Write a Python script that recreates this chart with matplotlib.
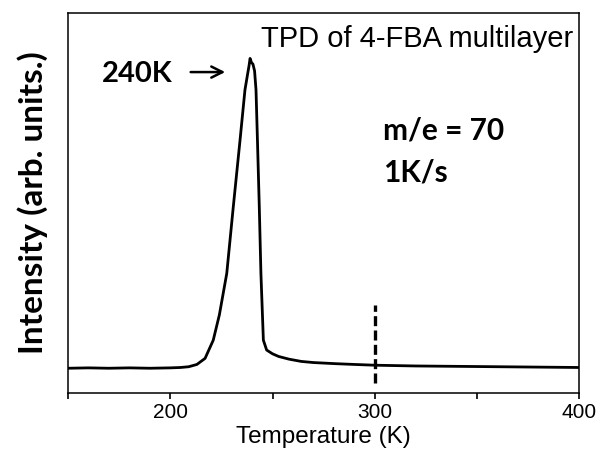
import numpy as np
import matplotlib.pyplot as plt

# TPD trace (T in K, intensity in arb. units)
temp = [150, 160, 170, 180, 190, 200, 205, 209, 213, 217, 221, 224, 227.6, 230.8,
        234.1, 236.5, 237.8, 238.5, 239, 239.7, 240.4, 241.2, 241.9, 242.6, 243.5,
        244.3, 245.5, 247.1, 250, 253, 258, 264, 270, 281, 290, 300, 320, 340,
        360, 380, 400]
inten = [0.064, 0.065, 0.064, 0.065, 0.064, 0.065, 0.066, 0.068, 0.074, 0.090, 0.138,
         0.205, 0.314, 0.490, 0.666, 0.798, 0.840, 0.862, 0.881, 0.870, 0.866,
         0.848, 0.798, 0.666, 0.490, 0.314, 0.138, 0.112, 0.102, 0.095, 0.088,
         0.082, 0.079, 0.076, 0.074, 0.072, 0.070, 0.069, 0.068, 0.067, 0.066]

xticks = [150, 200, 250, 300, 350, 400]
xlabels = ['', '200', '', '300', '', '400']

fig = plt.figure(figsize=(5.99, 4.57), dpi=100)
ax = fig.add_axes([0.1135, 0.1411, 0.8539, 0.8298])

ax.plot(temp, inten, color='black', lw=2.0)
ax.plot([300, 300], [0.024, 0.231], color='black', lw=2.4, ls=(0, (3, 1.3)))

ax.set_xlim(150, 400)
ax.set_ylim(0, 1)
ax.set_xticks(xticks)
ax.set_xticklabels(xlabels, fontfamily='Liberation Sans', fontsize=15)
ax.set_yticks([])
ax.tick_params(axis='x', direction='out', length=4.5, width=1.2, pad=3)
for s in ax.spines.values():
    s.set_linewidth(1.1)

ax.set_xlabel('Temperature (K)', fontfamily='Liberation Sans', fontsize=17.5,
              labelpad=3)
fig.text(33 / 599, 1 - 202.5 / 457, 'Intensity (arb. units.)', rotation=90,
         ha='center', va='center', fontfamily='Lato', fontweight='bold',
         fontsize=24)

ax.text(0.987, 0.912, 'TPD of 4-FBA multilayer', transform=ax.transAxes,
        ha='right', va='baseline', fontfamily='Liberation Sans', fontsize=21)
ax.annotate('', xy=(228.2, 0.845), xytext=(208.6, 0.845),
            arrowprops=dict(arrowstyle='->', color='black', lw=1.8,
                            mutation_scale=20))
ax.text(201.3, 0.84, '240K', ha='right', va='center', fontfamily='Lato',
        fontweight='bold', fontsize=21)
ax.text(304, 0.692, 'm/e = 70', ha='left', va='center', fontfamily='Lato',
        fontweight='bold', fontsize=21.5)
ax.text(304, 0.581, '1K/s', ha='left', va='center', fontfamily='Lato',
        fontweight='bold', fontsize=21.5)

fig.savefig('out.png', dpi=100)
